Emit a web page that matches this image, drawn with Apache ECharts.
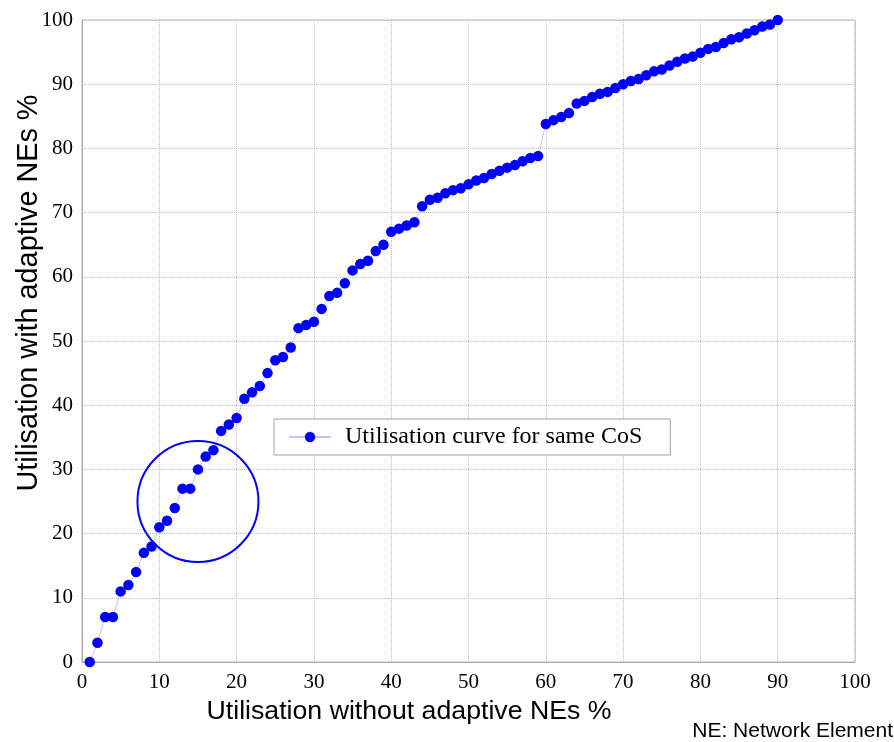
<!DOCTYPE html>
<html><head><meta charset="utf-8">
<script src="https://cdn.jsdelivr.net/npm/echarts@6/dist/echarts.min.js"></script>
<style>html,body{margin:0;padding:0;background:#fff}#c{width:894px;height:742px}</style>
</head><body><div id="c"></div>
<script>
// Utilisation without adaptive NEs (%)
const xValues = [1,2,3,4,5,6,7,8,9,10,11,12,13,14,15,16,17,18,19,20,
  21,22,23,24,25,26,27,28,29,30,31,32,33,34,35,36,37,38,39,40,
  41,42,43,44,45,46,47,48,49,50,51,52,53,54,55,56,57,58,59,60,
  61,62,63,64,65,66,67,68,69,70,71,72,73,74,75,76,77,78,79,80,
  81,82,83,84,85,86,87,88,89,90];
// Utilisation with adaptive NEs (%)
const yValues = [0,3,7,7,11,12,14,17,18,21,22,24,27,27,30,32,33,36,37,38,
  41,42,43,45,47,47.5,49,52,52.5,53,55,57,57.5,59,61,62,62.5,64,65,67,
  67.5,68,68.5,71,72,72.3,73,73.5,73.8,74.4,75,75.4,76,76.5,77,77.4,78,78.5,78.8,83.8,
  84.4,84.9,85.5,87,87.4,88,88.5,88.8,89.4,90,90.5,90.8,91.4,92,92.3,92.9,93.5,94,94.3,94.9,
  95.5,95.8,96.4,97,97.3,97.9,98.4,99,99.3,100];
const xTicks = [0,10,20,30,40,50,60,70,80,90,100];
const yTicks = [0,10,20,30,40,50,60,70,80,90,100];
const seriesName = 'Utilisation curve for same CoS';
const xTitle = 'Utilisation without adaptive NEs %';
const yTitle = 'Utilisation with adaptive NEs %';
const footnote = 'NE: Network Element';
const circleCenter = [15, 25]; // highlighted region (data coords)

const data = xValues.map((x, i) => [x, yValues[i]]);
const serif = '"Liberation Serif", "Times New Roman", serif';
const sans = '"Liberation Sans", Arial, sans-serif';

const chart = echarts.init(document.getElementById('c'), null, {renderer: 'canvas'});
const gridLine = {show: true, lineStyle: {color: '#bdbdbd', type: [1, 1], width: 1}};
chart.setOption({
  animation: false,
  backgroundColor: '#fff',
  grid: {left: 82, top: 20, right: 39, bottom: 80, show: true, borderColor: '#b8b8b8', borderWidth: 1,
         containLabel: false, outerBoundsMode: 'none'},
  xAxis: {
    type: 'value', min: xTicks[0], max: xTicks[xTicks.length - 1], interval: xTicks[1] - xTicks[0],
    axisLine: {show: true, lineStyle: {color: '#a8a8a8'}},
    axisTick: {show: false},
    splitLine: gridLine,
    axisLabel: {color: '#000', fontFamily: serif, fontSize: 21, margin: 10},
    name: xTitle, nameLocation: 'middle', nameGap: 31,
    nameTextStyle: {color: '#000', fontFamily: sans, fontSize: 26.7, padding: [0, 119, 0, 0]}
  },
  yAxis: {
    type: 'value', min: yTicks[0], max: yTicks[yTicks.length - 1], interval: yTicks[1] - yTicks[0],
    axisLine: {show: true, lineStyle: {color: '#a8a8a8'}},
    axisTick: {show: false},
    splitLine: gridLine,
    axisLabel: {color: '#000', fontFamily: serif, fontSize: 21, margin: 9},
    name: yTitle, nameLocation: 'middle', nameGap: 38, nameRotate: 90, nameMoveOverlap: false,
    nameTextStyle: {color: '#000', fontFamily: sans, fontSize: 28.8, padding: [0, 0, 0, 96]}
  },
  legend: {
    show: true, left: 274, top: 419,
    padding: [6, 28, 6, 14],
    borderColor: '#a0a0a0', borderWidth: 1, backgroundColor: '#fff',
    itemWidth: 42, itemHeight: 13,
    textStyle: {color: '#000', fontFamily: serif, fontSize: 24, padding: [0, 0, 0, 9], lineHeight: 24},
    data: [seriesName]
  },
  series: [{
    name: seriesName, type: 'line', data: data,
    symbol: 'circle', symbolSize: 10.5,
    itemStyle: {color: '#0000ff'},
    lineStyle: {color: '#c4c4ff', width: 1},
    z: 3
  }],
  graphic: [{
    type: 'text', right: 1, bottom: 0,
    style: {text: footnote, fill: '#000', font: '21px ' + sans}
  }]
});

const c = chart.convertToPixel({xAxisIndex: 0, yAxisIndex: 0}, circleCenter);
chart.setOption({
  graphic: [{
    type: 'text', right: 1, bottom: 0,
    style: {text: footnote, fill: '#000', font: '21px ' + sans}
  }, {
    type: 'circle', shape: {cx: c[0], cy: c[1], r: 60.5},
    style: {fill: 'none', stroke: '#0000ff', lineWidth: 2}, z: 10
  }]
});
</script>
</body></html>
